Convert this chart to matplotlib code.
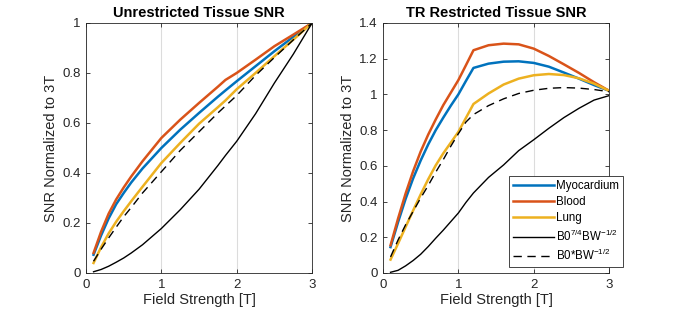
#!/usr/bin/env python3
"""Normalized tissue SNR vs field strength, unrestricted and TR restricted."""

import matplotlib
matplotlib.use("Agg")
import matplotlib.pyplot as plt
from matplotlib.ticker import FormatStrFormatter

plt.rcParams["font.family"] = ["Liberation Sans", "DejaVu Sans"]
plt.rcParams["mathtext.fontset"] = "custom"
plt.rcParams["mathtext.rm"] = "Liberation Sans"
plt.rcParams["mathtext.it"] = "Liberation Sans"

# =============================================================================
# Data
# =============================================================================

# Unrestricted panel
field_unr = [0.1, 0.2, 0.3, 0.4, 0.5, 0.6, 0.75, 1.0, 1.25, 1.5, 1.75, 1.85,
             2.0, 2.25, 2.5, 2.75, 3.0]
unr_myo = [0.073, 0.15, 0.218, 0.275, 0.32, 0.362, 0.418, 0.50, 0.573, 0.64,
           0.705, 0.73, 0.767, 0.827, 0.887, 0.944, 1.0]
unr_blood = [0.08, 0.165, 0.237, 0.294, 0.342, 0.386, 0.447, 0.54, 0.613,
             0.68, 0.745, 0.772, 0.80, 0.853, 0.907, 0.953, 1.0]
unr_lung = [0.04, 0.103, 0.158, 0.205, 0.247, 0.287, 0.345, 0.44, 0.52,
            0.597, 0.663, 0.69, 0.735, 0.80, 0.867, 0.933, 1.0]
unr_b074 = [0.005, 0.014, 0.027, 0.043, 0.06, 0.08, 0.113, 0.178, 0.253,
            0.335, 0.43, 0.47, 0.527, 0.637, 0.76, 0.875, 1.0]
unr_b0 = [0.047, 0.095, 0.14, 0.183, 0.225, 0.262, 0.32, 0.405, 0.49, 0.565,
          0.64, 0.668, 0.71, 0.79, 0.862, 0.932, 1.0]

# TR restricted panel
field_tr = [0.1, 0.2, 0.3, 0.4, 0.5, 0.6, 0.7, 0.8, 0.9, 1.0, 1.1, 1.2,
            1.4, 1.6, 1.8, 2.0, 2.2, 2.4, 2.6, 2.8, 3.0]
tr_myo = [0.145, 0.285, 0.415, 0.53, 0.63, 0.72, 0.80, 0.87, 0.937, 1.0,
          1.075, 1.148, 1.172, 1.183, 1.185, 1.176, 1.155, 1.122, 1.088,
          1.052, 1.02]
tr_blood = [0.155, 0.305, 0.445, 0.57, 0.68, 0.775, 0.86, 0.94, 1.01, 1.08,
            1.163, 1.247, 1.275, 1.284, 1.28, 1.256, 1.215, 1.168, 1.12,
            1.068, 1.02]
tr_lung = [0.075, 0.165, 0.258, 0.35, 0.44, 0.525, 0.603, 0.67, 0.73, 0.79,
           0.868, 0.946, 1.005, 1.055, 1.088, 1.107, 1.114, 1.108, 1.09,
           1.06, 1.02]
tr_b074 = [0.004, 0.015, 0.04, 0.07, 0.105, 0.148, 0.195, 0.24, 0.288,
           0.336, 0.395, 0.448, 0.535, 0.605, 0.685, 0.746, 0.81, 0.87,
           0.922, 0.968, 0.993]
tr_b0 = [0.09, 0.185, 0.27, 0.345, 0.42, 0.49, 0.565, 0.635, 0.71, 0.78,
         0.845, 0.887, 0.937, 0.975, 1.005, 1.023, 1.034, 1.038, 1.035,
         1.027, 1.015]

LABELS = ["Myocardium", "Blood", "Lung",
          r"B0$^{7/4}$BW$^{-1/2}$", r"B0*BW$^{-1/2}$"]

BLUE = "#0072BD"
ORANGE = "#D95319"
YELLOW = "#EDB120"
TEXT = "#262626"


def style_axes(ax, ymax, title):
    ax.set_xlim(0, 3)
    ax.set_ylim(0, ymax)
    ax.set_xticks([0, 1, 2, 3])
    n = int(round(ymax / 0.2))
    ax.set_yticks([i * 0.2 for i in range(n + 1)])
    ax.yaxis.set_major_formatter(FormatStrFormatter("%g"))
    ax.tick_params(direction="in", top=True, right=True, labelsize=9.5,
                   colors=TEXT, length=3, width=0.6, pad=4)
    ax.grid(axis="x", color="#dcdcdc", linewidth=0.8)
    ax.set_axisbelow(True)
    for s in ax.spines.values():
        s.set_color(TEXT)
        s.set_linewidth(0.6)
    ax.set_xlabel("Field Strength [T]", fontsize=10.5, color=TEXT, labelpad=2)
    ax.set_ylabel("SNR Normalized to 3T", fontsize=10.5, color=TEXT,
                  labelpad=3)
    ax.set_title(title, fontsize=10.5, fontweight="bold", pad=4)


def draw(ax, x, myo, blood, lung, b074, b0):
    ax.plot(x, myo, color=BLUE, lw=1.8, label=LABELS[0])
    ax.plot(x, blood, color=ORANGE, lw=1.8, label=LABELS[1])
    ax.plot(x, lung, color=YELLOW, lw=1.8, label=LABELS[2])
    ax.plot(x, b074, color="black", lw=1.0, label=LABELS[3])
    ax.plot(x, b0, color="black", lw=1.0, ls=(0, (6, 4)), label=LABELS[4])


fig = plt.figure(figsize=(6.73, 3.13), dpi=100)
ax1 = fig.add_axes([0.1278, 0.1278, 0.336, 0.799])
ax2 = fig.add_axes([0.5691, 0.1278, 0.336, 0.799])

draw(ax1, field_unr, unr_myo, unr_blood, unr_lung, unr_b074, unr_b0)
style_axes(ax1, 1.0, "Unrestricted Tissue SNR")

draw(ax2, field_tr, tr_myo, tr_blood, tr_lung, tr_b074, tr_b0)
style_axes(ax2, 1.4, "TR Restricted Tissue SNR")

leg = ax2.legend(loc="lower right", fontsize=8.3, frameon=True, fancybox=False,
                 borderpad=0.35, labelspacing=0.35, handlelength=3.6,
                 handletextpad=0.15, borderaxespad=0.0,
                 bbox_to_anchor=(623 / 673, (313 - 267) / 313),
                 bbox_transform=fig.transFigure)
leg.get_frame().set_edgecolor(TEXT)
leg.get_frame().set_linewidth(0.6)
leg.get_frame().set_alpha(1.0)

fig.savefig("out.png", dpi=100)
